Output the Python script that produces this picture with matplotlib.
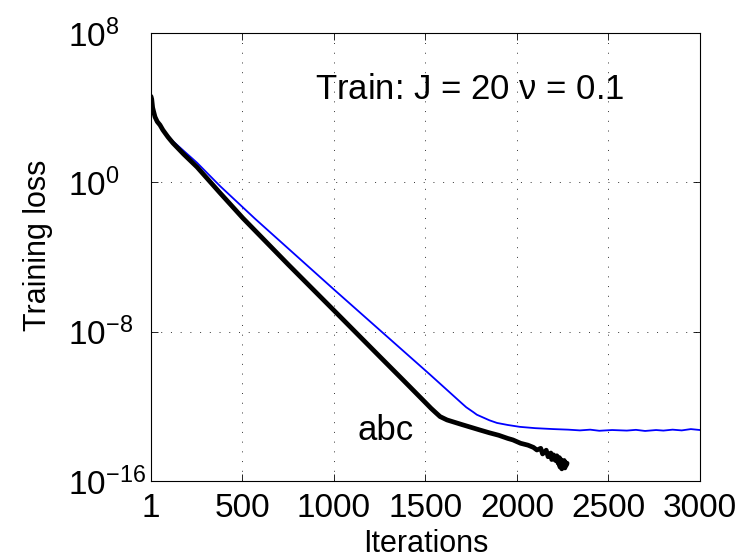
import numpy as np
import matplotlib
matplotlib.use("Agg")
import matplotlib.pyplot as plt
from matplotlib.ticker import FixedLocator, NullLocator

plt.rcParams['font.family'] = ['Liberation Sans', 'DejaVu Sans']
plt.rcParams['mathtext.fontset'] = 'custom'
plt.rcParams['mathtext.rm'] = 'Liberation Sans'
plt.rcParams['mathtext.it'] = 'Liberation Sans'

# black curve: iteration, log10(loss)
it_black = [1, 5, 10, 15, 23, 35, 50, 66, 94, 121, 180, 252, 378, 503, 750, 1000, 1250, 1377, 1500, 1530, 1552,
            1580, 1618, 1700, 1798, 1850, 1900, 1950, 1978, 2020, 2060, 2090, 2109, 2130, 2140, 2160,
            2170, 2185, 2190, 2200, 2210, 2218, 2225, 2232, 2235, 2240, 2245, 2251, 2255, 2258, 2262,
            2265, 2270, 2274]
log_black = [4.6, 4.45, 4.0, 3.8, 3.5, 3.25, 3.07, 2.8, 2.42, 2.1, 1.5, 0.82, -0.57, -1.92, -4.4, -6.86, -9.33,
             -10.58, -11.8, -12.1, -12.3,
             -12.55, -12.73, -12.98, -13.27, -13.42, -13.55, -13.72, -13.8, -13.98, -14.08, -14.2, -14.34, -14.25,
             -14.55, -14.35, -14.7, -14.5, -14.85, -14.6, -14.9, -14.65, -15.05, -14.75, -15.25, -14.85, -15.35,
             -14.95, -15.2, -14.9, -15.3, -15.0, -15.15, -15.05]

# blue curve
it_blue = [1, 5, 10, 15, 23, 35, 50, 66, 94, 121, 180, 252, 378, 569, 1000, 1525, 1700, 1723, 1760, 1781, 1850,
           1891, 1950, 2016, 2100, 2200, 2280, 2344, 2400, 2450, 2520, 2600, 2650, 2700, 2760, 2800, 2850,
           2900, 2950, 3000]
log_blue = [4.6, 4.45, 4.0, 3.8, 3.5, 3.25, 3.07, 2.8, 2.5, 2.2, 1.68, 1.05, -0.2, -1.95, -5.74, -10.3, -11.85,
            -12.05, -12.3, -12.45, -12.75, -12.89, -13.0, -13.1, -13.17, -13.22, -13.25, -13.29, -13.25, -13.31,
            -13.27, -13.3, -13.26, -13.32, -13.27, -13.3, -13.25, -13.29, -13.22, -13.27]

xticks = [1, 500, 1000, 1500, 2000, 2500, 3000]
yticks = [1e-16, 1e-8, 1e0, 1e8]
ytick_labels = [r'$10^{-16}$', r'$10^{-8}$', r'$10^{0}$', r'$10^{8}$']

fig = plt.figure(figsize=(7.49, 5.58), dpi=100)
ax = fig.add_axes([0.2016, 0.138, 0.733, 0.803])

ax.semilogy(it_blue, 10.0 ** np.array(log_blue), color='#0000ff', linewidth=1.3)
ax.semilogy(it_black, 10.0 ** np.array(log_black), color='black', linewidth=3.4,
            solid_joinstyle='round', solid_capstyle='round')

ax.set_xlim(1, 3000)
ax.set_ylim(1e-16, 1e8)
ax.xaxis.set_major_locator(FixedLocator(xticks))
ax.set_xticklabels([str(t) for t in xticks])
ax.yaxis.set_major_locator(FixedLocator(yticks))
ax.yaxis.set_minor_locator(NullLocator())
ax.set_yticklabels(ytick_labels)

ax.tick_params(direction='in', length=5, width=0.6, labelsize=24, top=True, right=True)
ax.tick_params(axis='x', pad=9)
ax.tick_params(axis='y', pad=60)
for lbl in ax.get_yticklabels():
    lbl.set_horizontalalignment('left')
ax.grid(True, which='major', linestyle=(0, (1, 9)), color='#333333', linewidth=0.7)
for s in ax.spines.values():
    s.set_linewidth(0.8)

fig.text(425.5 / 749, 1 - 552 / 558, 'Iterations', fontsize=22, ha='center', va='baseline')
fig.text(38 / 749, 1 - 245 / 558, 'Training loss', fontsize=22, ha='center', va='center', rotation=90)

ax.text(0.299, 0.853, r'Train: J = 20 $\nu$ = 0.1', transform=ax.transAxes, fontsize=25, va='baseline')
ax.text(0.377, 0.0915, 'abc', transform=ax.transAxes, fontsize=25, va='baseline')

fig.savefig('out.png', dpi=100)
